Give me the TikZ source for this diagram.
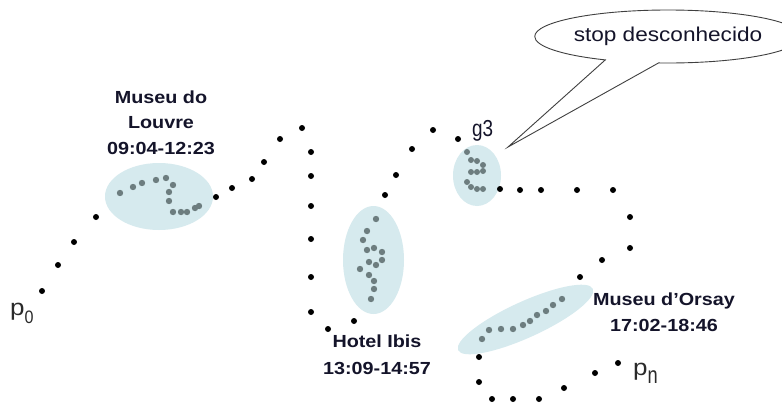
\documentclass[tikz,border=0pt]{standalone}
\usepackage{fontspec}
\setmainfont{Liberation Sans}
\newfontfamily\labelfont[FakeStretch=1.13]{Liberation Sans}
\newfontfamily\notefont[FakeStretch=1.13]{Liberation Sans}
\usetikzlibrary{shapes.geometric,shapes.callouts}

\definecolor{stopfill}{HTML}{D6EAEE}
\definecolor{stopdot}{HTML}{6D7D7F}
\definecolor{ink}{HTML}{14142A}
\definecolor{markink}{HTML}{2A2A2A}

\tikzset{
  trackpt/.style={fill=black},
  stoppt/.style={fill=stopdot},
  stopzone/.style={fill=stopfill},
  stoplabel/.style={font=\labelfont\bfseries\fontsize{17.5}{25.5}\selectfont,
    align=center, text=ink, inner sep=0pt},
  endlabel/.style={font=\notefont\fontsize{23}{23}\selectfont, text=markink,
    inner sep=0pt, anchor=base west},
  bubble/.style={ellipse callout, draw=black!75, line width=0.9pt, fill=white,
    inner sep=0pt, minimum width=227pt, minimum height=53pt,
    callout pointer arc=24, font=\notefont\fontsize{20}{20}\selectfont, text=ink}
}

\begin{document}
\begin{tikzpicture}[x=1pt,y=-1pt]
\fill[white] (0,0) rectangle (782,408);
\useasboundingbox (0,0) rectangle (782,408);

% stop regions
\fill[stopzone] (159,196.5) ellipse [x radius=54pt, y radius=33.5pt];
\fill[stopzone] (373.5,260) ellipse [x radius=30.5pt, y radius=54pt];
\fill[stopzone] (477,175.5) ellipse [x radius=24pt, y radius=30.5pt];
\fill[stopzone, rotate around={24.5:(525.5,319.5)}] (525.5,319.5)
  ellipse [x radius=74pt, y radius=18pt];

% points inside the stops
\foreach \x/\y in {120/193,133/187,142/183,156/180,166/178,173/185,169/192,
  169/201,173/212,181/212,187/212,195/208,199/206}
  \fill[stoppt] (\x,\y) circle[radius=3.2pt];
\foreach \x/\y in {376/219,367/231,363/240,367/250,374/248,382/252,382/260,
  376/265,369/262,360/269,369/275,374/281,374/289,371/299}
  \fill[stoppt] (\x,\y) circle[radius=3.2pt];
\foreach \x/\y in {467/152,471/160,477/161,483/165,483/171,477/172,471/172,
  467/182,471/187,477/189,483/189}
  \fill[stoppt] (\x,\y) circle[radius=3pt];
\foreach \x/\y in {482/339,489/330,501/329,513/329,523/325,530/321,537/315,
  546/311,553/305,562/299}
  \fill[stoppt] (\x,\y) circle[radius=3.2pt];

% trajectory points between stops
\foreach \x/\y in {42/291,58/265,74/242,96/217,216/197,232/188,252/179,264/162,
  280/139,302/128,311/152,311/176,311/206,311/239,311/277,311/312,328/329,354/321,
  385/195,396/175,412/149,433/130,458/139,
  500/189,520/190,541/190,577/190,613/190,630/217,630/248,602/260,580/277,
  479/357,479/382,492/399,513/399,539/399,564/388,595/373,618/363}
  \fill[trackpt] (\x,\y) circle[radius=3pt];

% stop labels
\node[stoplabel] (louvre) at (161,122.3) {Museu do\\Louvre\\09:04-12:23};
\node[stoplabel, font=\labelfont\bfseries\fontsize{17.5}{27}\selectfont]
  (ibis) at (377,354.3) {Hotel Ibis\\13:09-14:57};
\node[stoplabel] (orsay) at (664,312.3) {Museu d’Orsay\\17:02-18:46};

% start and end of the trajectory
\node[endlabel] (p0) at (10,315)
  {p\raisebox{-8pt}{\scalebox{0.95}[1.2]{\fontsize{15}{15}\selectfont 0}}};
\node[endlabel] (pn) at (633,375)
  {p\raisebox{-8.3pt}{\scalebox{0.95}[1.4]{\fontsize{17}{17}\selectfont n}}};

% unknown stop and its note
\node[anchor=base west, inner sep=0pt, text=ink, font=\fontsize{21}{21}\selectfont]
  (g3) at (472,136.7) {\scalebox{0.9}[1.1]{g3}};
\coordinate (g3tip) at (508,147);
\node[bubble, callout absolute pointer={(g3tip)}] (stop) at (668,36.5)
  {stop desconhecido};
\end{tikzpicture}
\end{document}
